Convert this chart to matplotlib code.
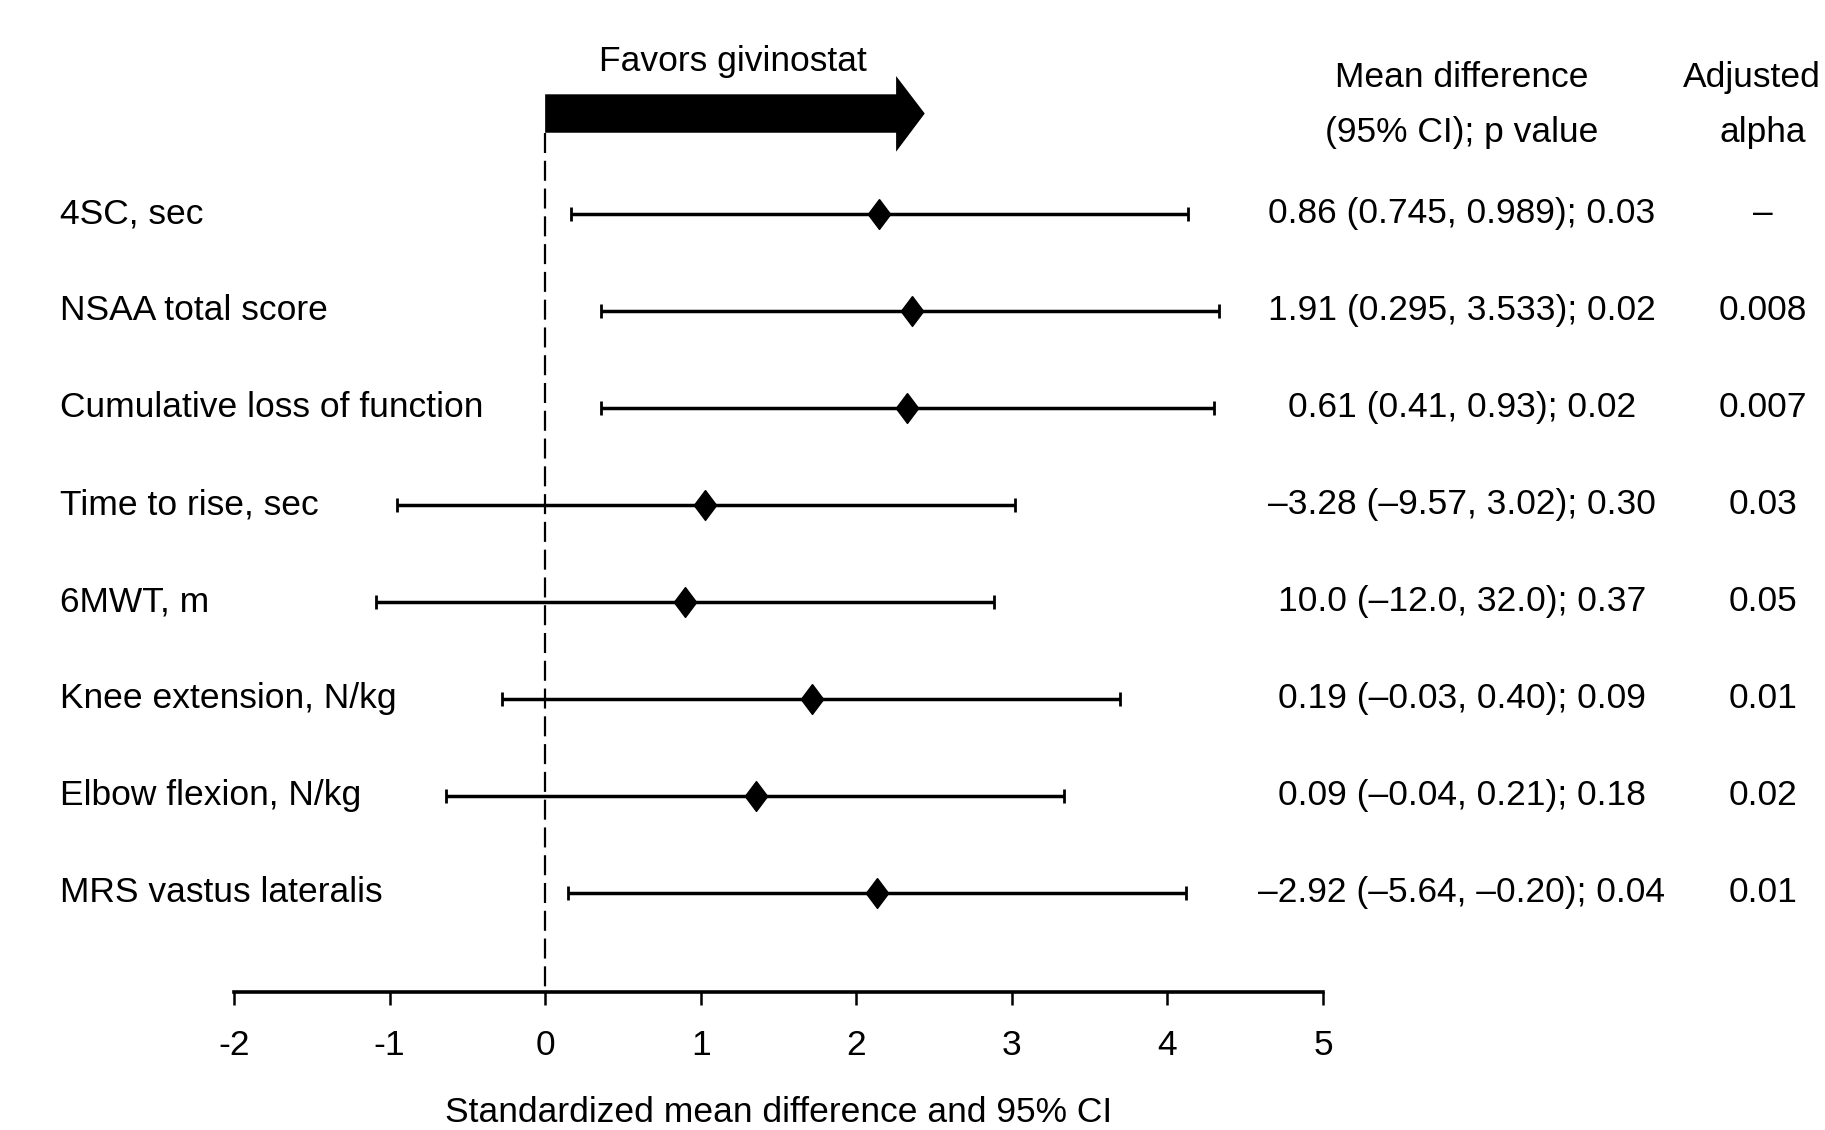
import numpy as np
import matplotlib
matplotlib.use("Agg")
from matplotlib import pyplot as plt
from matplotlib import transforms

# no narrow font installed: regular Liberation Sans, sized to match text widths
plt.rcParams['font.family'] = ['Liberation Sans Narrow', 'Liberation Sans', 'DejaVu Sans']
plt.rcParams['font.size'] = 25.5

# outcomes, top to bottom
labels = ["4SC, sec", "NSAA total score", "Cumulative loss of function",
          "Time to rise, sec", "6MWT, m", "Knee extension, N/kg",
          "Elbow flexion, N/kg", "MRS vastus lateralis"]

# standardized mean difference and 95% CI
smd = [2.143, 2.359, 2.323, 1.029, 0.898, 1.714, 1.354, 2.134]
ci_lo = [0.163, 0.362, 0.362, -0.950, -1.090, -0.279, -0.639, 0.145]
ci_hi = [4.130, 4.333, 4.298, 3.022, 2.886, 3.698, 3.333, 4.121]

md_text = ["0.86 (0.745, 0.989); 0.03",
           "1.91 (0.295, 3.533); 0.02",
           "0.61 (0.41, 0.93); 0.02",
           "\u20133.28 (\u20139.57, 3.02); 0.30",
           "10.0 (\u201312.0, 32.0); 0.37",
           "0.19 (\u20130.03, 0.40); 0.09",
           "0.09 (\u20130.04, 0.21); 0.18",
           "\u20132.92 (\u20135.64, \u20130.20); 0.04"]
alpha_text = ["\u2013", "0.008", "0.007", "0.03", "0.05", "0.01", "0.02", "0.01"]

xticks = [-2, -1, 0, 1, 2, 3, 4, 5]
xtick_labels = ["-2", "-1", "0", "1", "2", "3", "4", "5"]

W, H = 1825, 1130
fig = plt.figure(figsize=(W/100, H/100), dpi=100)

# axes placed so that -2..5 spans x=234..1323 px and rows sit 97 px apart
y0, dy = 213.5, 97.07          # pixel y of first row, row spacing
top_px, axis_px = 20.0, 991.7
ax = fig.add_axes([234/W, 1 - axis_px/H, (1323-234)/W, (axis_px-top_px)/H])
ax.set_xlim(-2, 5)
ax.set_ylim((axis_px-y0)/dy, (top_px-y0)/dy)

rows = np.arange(len(labels))
err = [np.array(smd) - np.array(ci_lo), np.array(ci_hi) - np.array(smd)]
diamond = [(0, 1), (0.75, 0), (0, -1), (-0.75, 0), (0, 1)]
ax.errorbar(smd, rows, xerr=err, fmt='none', ecolor='black', elinewidth=2.5,
            capsize=5, capthick=2.0)
ax.plot(smd, rows, linestyle='none', marker=diamond, markersize=21.5,
        color='black')

# null line
ax.vlines(0, -0.829, (axis_px-y0)/dy, colors='black', linewidth=1.6,
          linestyles=(0, (9, 3.5)), clip_on=False)

# "favors" arrow
ax.fill([0, 2.256, 2.256, 2.440, 2.256, 2.256, 0],
        [-1.228, -1.228, -1.416, -1.030, -0.637, -0.832, -0.832],
        color='black', clip_on=False, linewidth=0)
ax.text(1.21, (71.5-y0)/dy, "Favors givinostat", ha='center', va='baseline')

for s in ['top', 'right', 'left']:
    ax.spines[s].set_visible(False)
ax.spines['bottom'].set_linewidth(2.6)
ax.set_yticks([])
ax.set_xticks(xticks, labels=xtick_labels)
ax.tick_params(axis='x', length=9.5, width=1.8, pad=17)

fig.text(779/W, 8.3/H, "Standardized mean difference and 95% CI",
         ha='center', va='baseline')

# left labels and right-hand columns
tr = transforms.blended_transform_factory(fig.transFigure, ax.transData)
off = 9.5/dy
for i in rows:
    ax.text(60.5/W, i + off, labels[i], transform=tr, ha='left', va='baseline')
    ax.text(1462/W, i + off, md_text[i], transform=tr, ha='center', va='baseline')
    ax.text(1763/W, i + off, alpha_text[i], transform=tr, ha='center', va='baseline')

ax.text(1462/W, (87-y0)/dy, "Mean difference", transform=tr, ha='center', va='baseline')
ax.text(1462/W, (142-y0)/dy, "(95% CI); p value", transform=tr, ha='center', va='baseline')
ax.text(1821/W, (87-y0)/dy, "Adjusted", transform=tr, ha='right', va='baseline')
ax.text(1763/W, (142-y0)/dy, "alpha", transform=tr, ha='center', va='baseline')

fig.savefig("out.png", dpi=100)
